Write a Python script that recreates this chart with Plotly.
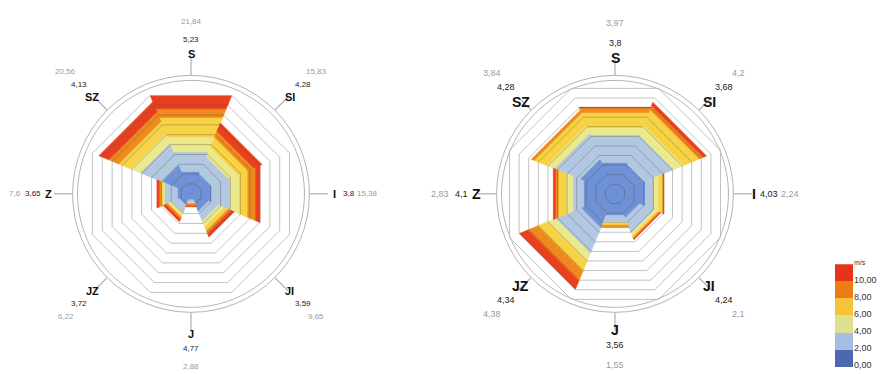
import math
import plotly.graph_objects as go

# Wind directions (clockwise from north) and their compass angles
directions = ["S", "SI", "I", "JI", "J", "JZ", "Z", "SZ"]
angles = [0, 45, 90, 135, 180, 225, 270, 315]

# Speed classes (m/s, lower bounds); scale colours and the lighter sector fills
class_labels = ["0,00", "2,00", "4,00", "6,00", "8,00", "10,00"]
scale_colors = ["#4c68ae", "#a4bde5", "#dfe08e", "#f6c33a", "#ec7c14", "#e5341b"]
sector_colors = ["#6f91d6", "#b2c8e0", "#ece88c", "#f7d245", "#ef8a1e", "#e8401f"]

# Left rose: frequency (%) per direction for each speed class
left_0_2 = [5.02, 4.37, 4.59, 3.93, 1.31, 2.60, 3.06, 6.55]
left_2_4 = [4.37, 3.93, 4.15, 2.18, 0.66, 1.75, 2.84, 4.80]
left_4_6 = [3.28, 2.18, 2.18, 1.31, 0.22, 0.66, 0.33, 2.18]
left_6_8 = [4.37, 2.18, 1.75, 0.87, 0.11, 0.22, 0.39, 2.62]
left_8_10 = [1.97, 1.31, 1.75, 0.66, 0.33, 0.44, 0.48, 2.18]
left_10p = [2.84, 1.86, 0.96, 0.70, 0.25, 0.55, 0.50, 2.23]
left_freq = [21.84, 15.83, 15.38, 9.65, 2.88, 6.22, 7.6, 20.56]
left_speed = [5.23, 4.28, 3.8, 3.59, 4.77, 3.72, 3.65, 4.13]

# Right rose
right_0_2 = [1.44, 1.35, 1.39, 1.12, 0.99, 1.57, 1.44, 1.62]
right_2_4 = [1.26, 1.35, 0.40, 0.67, 0.31, 1.17, 0.49, 1.17]
right_4_6 = [0.36, 0.45, 0.22, 0.13, 0.07, 0.36, 0.31, 0.36]
right_6_8 = [0.67, 0.72, 0.20, 0.08, 0.07, 0.45, 0.36, 0.56]
right_8_10 = [0.22, 0.18, 0.02, 0.06, 0.11, 0.45, 0.13, 0.13]
right_10p = [0.02, 0.15, 0.01, 0.04, 0.00, 0.38, 0.10, 0.00]
right_freq = [3.97, 4.2, 2.24, 2.1, 1.55, 4.38, 2.83, 3.84]
right_speed = [3.8, 3.68, 4.03, 4.24, 3.56, 4.34, 4.1, 4.28]

FONT = "Liberation Sans, Arial, sans-serif"
W, H = 894, 374
HALF = 22.5          # half sector width in degrees
POLAR_Y = [60 / H, 302 / H]
LEFT_X = [70 / W, 312 / W]
RIGHT_X = [494 / W, 736 / W]


def fmt(v):
    return str(v).replace(".", ",")


def add_rose(fig, subplot, xdom, classes, freq, speed, rmax, ring_step, n_rings,
             name_size, num_size, card_px, diag_px):
    # stacked octagonal sectors, one trace per speed class
    base = [0.0] * len(directions)
    for vals, color in zip(classes, sector_colors):
        th, rr = [], []
        for i, a in enumerate(angles):
            r0, r1 = base[i], base[i] + vals[i]
            base[i] = r1
            if vals[i] <= 0:
                continue
            th += [a - HALF, a + HALF, a + HALF, a - HALF, a - HALF, None]
            rr += [r1, r1, r0, r0, r1, None]
        fig.add_trace(go.Scatterpolar(
            r=rr, theta=th, mode="lines", fill="toself", fillcolor=color,
            line=dict(color=color, width=0.6), subplot=subplot,
            hoverinfo="skip", showlegend=False))

    # octagonal grid rings drawn over the sectors
    th, rr = [], []
    for k in range(1, n_rings + 1):
        th += [HALF + 45 * j for j in range(9)] + [None]
        rr += [k * ring_step] * 9 + [None]
    fig.add_trace(go.Scatterpolar(
        r=rr, theta=th, mode="lines",
        line=dict(color="rgba(70,70,70,0.33)", width=1),
        subplot=subplot, hoverinfo="skip", showlegend=False))

    # inner frame circle
    circ = list(range(0, 361, 2))
    fig.add_trace(go.Scatterpolar(
        r=[rmax * 0.958] * len(circ), theta=circ, mode="lines",
        line=dict(color="#b4b4b4", width=1), subplot=subplot,
        hoverinfo="skip", showlegend=False))

    # labels outside the frame: direction name, mean speed, frequency
    cx = (xdom[0] + xdom[1]) / 2 * W
    cy = H - (POLAR_Y[0] + POLAR_Y[1]) / 2 * H
    styles = [
        (lambda i: "<b>%s</b>" % directions[i], name_size, "#111111"),
        (lambda i: fmt(speed[i]), num_size, "#1a1a1a"),
        (lambda i: fmt(freq[i]), num_size, "#9a9a9a"),
    ]
    for k, (txt, size, color) in enumerate(styles):
        for i, a in enumerate(angles):
            dist = card_px[k] if a % 90 == 0 else diag_px[k]
            sx = cx + dist * math.sin(math.radians(a))
            sy = cy - dist * math.cos(math.radians(a))
            fig.add_annotation(
                x=sx / W, y=(H - sy) / H, xref="paper", yref="paper",
                text=txt(i), showarrow=False, xanchor="center", yanchor="middle",
                font=dict(family=FONT, size=size, color=color))


fig = go.Figure()

left_rmax = max(left_freq) * 1.118
right_rmax = max(right_freq) * 1.146

add_rose(fig, "polar", LEFT_X,
         [left_0_2, left_2_4, left_4_6, left_6_8, left_8_10, left_10p],
         left_freq, left_speed, left_rmax, 2.2, 10, 11, 8,
         (143, 158, 176), (140, 158, 177))
add_rose(fig, "polar2", RIGHT_X,
         [right_0_2, right_2_4, right_4_6, right_6_8, right_8_10, right_10p],
         right_freq, right_speed, right_rmax, 0.44, 11, 14, 9,
         (139, 154, 175), (133, 154, 174))

# speed scale
for lab, color, lo in zip(class_labels, scale_colors, range(0, 12, 2)):
    fig.add_trace(go.Bar(x=[0], y=[2], base=[lo], marker=dict(color=color, line=dict(width=0)),
                         width=1, xaxis="x", yaxis="y", hoverinfo="skip", showlegend=False))


def polar_layout(xdom, rmax):
    return dict(
        domain=dict(x=xdom, y=POLAR_Y),
        bgcolor="white",
        angularaxis=dict(rotation=90, direction="clockwise", tickmode="array",
                         tickvals=angles, showticklabels=False, ticks="outside",
                         ticklen=18, tickcolor="#a0a0a0", tickwidth=1,
                         showgrid=False, showline=True, linecolor="#b4b4b4", linewidth=1),
        radialaxis=dict(range=[0, rmax], visible=False),
    )


fig.update_layout(
    width=W, height=H,
    margin=dict(l=0, r=0, t=0, b=0),
    paper_bgcolor="white", plot_bgcolor="white",
    font=dict(family=FONT),
    showlegend=False,
    polar=polar_layout(LEFT_X, left_rmax),
    polar2=polar_layout(RIGHT_X, right_rmax),
    barmode="overlay", bargap=0,
    xaxis=dict(domain=[835 / W, 853 / W], range=[-0.5, 0.5], visible=False, fixedrange=True),
    yaxis=dict(domain=[4 / H, 109 / H], range=[0, 12], anchor="x", side="right",
               tickmode="array", tickvals=[0, 2, 4, 6, 8, 10, 12],
               ticktext=class_labels + ["<span style='font-size:7px'>m/s</span>"],
               tickfont=dict(family=FONT, size=9, color="#333333"),
               ticklabeloverflow="allow", ticklabelshift=-2,
               showgrid=False, zeroline=False, showline=False, ticks="", fixedrange=True),
)

fig.write_html("out.html")
